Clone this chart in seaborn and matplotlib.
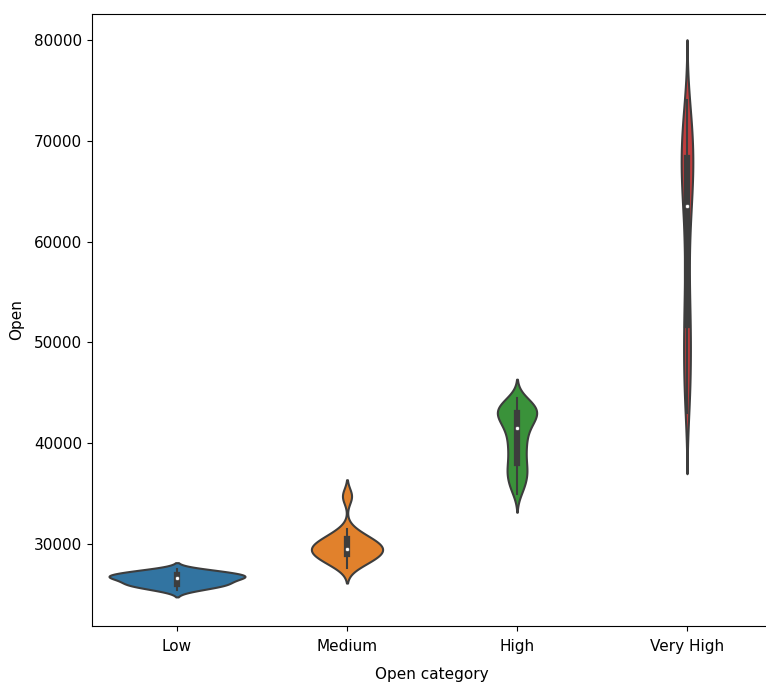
"""
plot.py

Violin plot of Open price by Open category
"""

import numpy as np
import pandas as pd
import matplotlib
matplotlib.use("Agg")
import matplotlib.pyplot as plt
import seaborn as sns


categories = ["Low", "Medium", "High", "Very High"]

# Low: single daily opens
low_open = [25400, 25600, 25750, 25900, 26000, 26050, 26150, 26250, 26400,
            26550, 26650, 26700, 26750, 26800, 26850, 26950, 27050, 27150,
            27250, 27350, 27500]

# Medium / High / Very High: price level -> number of days at that level
medium_levels = [27600, 28000, 28500, 29000, 29500, 30000, 30500, 31000,
                 31500, 34600, 34900]
medium_days = [2, 4, 7, 9, 10, 9, 6, 4, 2, 2, 2]

high_levels = [35000, 35500, 36000, 36500, 37000, 37500, 38000, 38500,
               39000, 39500, 40000, 40500, 41000, 41500, 42000, 42500,
               43000, 43500, 44000, 44500]
high_days = [6, 8, 9, 11, 12, 12, 10, 8, 10, 10, 10, 10, 11, 12, 17, 22, 26,
             28, 21, 8]

very_high_levels = [43000, 44000, 45000, 46000, 47000, 48000, 49000, 50000,
                    51000, 52000, 53000, 54000, 55000, 56000, 57000, 58000,
                    59000, 60000, 61000, 62000, 63000, 64000, 65000, 66000,
                    67000, 68000, 69000, 70000, 71000, 72000, 73000, 74000]
very_high_days = [7, 8, 8, 8, 8, 9, 9, 9, 9, 9, 8, 7, 5, 5, 4, 5, 5, 6, 6, 7,
                  8, 13, 14, 15, 16, 17, 17, 16, 14, 12, 10, 6]


# -----------------------------
# Build long table
# -----------------------------
parts = [
    ("Low", np.array(low_open)),
    ("Medium", np.repeat(medium_levels, medium_days)),
    ("High", np.repeat(high_levels, high_days)),
    ("Very High", np.repeat(very_high_levels, very_high_days)),
]
df = pd.concat(
    [pd.DataFrame({"Open category": name, "Open": vals}) for name, vals in parts],
    ignore_index=True,
)
df["Open"] = df["Open"].astype(float)

# -----------------------------
# Plot
# -----------------------------
plt.rcParams["font.size"] = 11

fig = plt.figure(figsize=(7.66, 6.85), dpi=100)
ax = fig.add_axes([92 / 766, 59 / 685, 680 / 766, 612 / 685])

sns.violinplot(
    data=df,
    x="Open category",
    y="Open",
    hue="Open category",
    order=categories,
    hue_order=categories,
    palette="tab10",
    linewidth=1.5,
    density_norm="area",
    common_norm=True,
    inner="box",
    inner_kws=dict(box_width=4.5, whis_width=1.5, marker=""),
    legend=False,
    ax=ax,
)

# white median dots, old seaborn style
medians = df.groupby("Open category")["Open"].median().reindex(categories)
ax.scatter(range(len(categories)), medians.values, s=9, color="white",
           edgecolor=".26", linewidth=0.5, zorder=3)

ax.set_xlim(-0.5, len(categories) - 0.5)
ax.set_ylim(21865, 82580)
ax.tick_params(axis="x", labelsize=11, pad=6)
ax.tick_params(axis="y", labelsize=11, pad=3.5)
ax.set_xlabel("Open category", fontsize=11, labelpad=9)
ax.set_ylabel("Open", fontsize=11, labelpad=7)

fig.savefig("out.png", dpi=100)
plt.close(fig)
